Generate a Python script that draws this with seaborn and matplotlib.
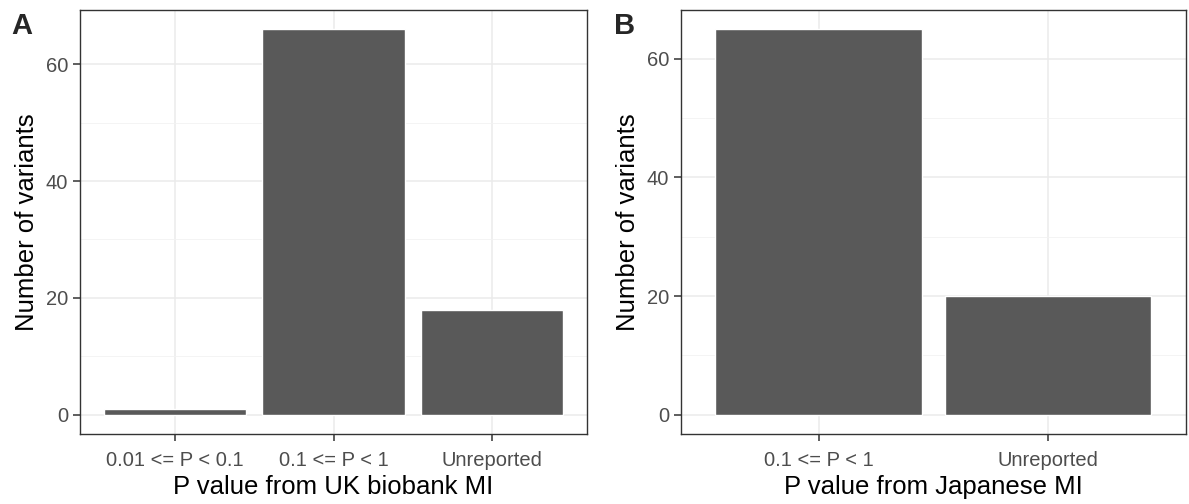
import numpy as np
import pandas as pd
import seaborn as sns
from matplotlib import pyplot as plt

uk_cats = ['0.01 <= P < 0.1', '0.1 <= P < 1', 'Unreported']
uk_counts = [1, 66, 18]
jp_cats = ['0.1 <= P < 1', 'Unreported']
jp_counts = [65, 20]

sns.set_style('white')
plt.rcParams['font.family'] = ['Liberation Sans', 'DejaVu Sans']

fig = plt.figure(figsize=(11.89, 5.04), dpi=100)
ax_a = fig.add_axes([0.0673, 0.139, 0.4264, 0.8413])
ax_b = fig.add_axes([0.5727, 0.139, 0.4247, 0.8413])


def panel(ax, cats, counts, xlabel, letter, lx):
    df = pd.DataFrame({'cat': cats, 'n': counts})
    sns.barplot(ax=ax, data=df, x='cat', y='n', color='#595959',
                saturation=1, width=0.9, zorder=3)
    top = max(counts)
    ax.set_ylim(-0.05 * top, top * 1.05)
    ax.set_xlim(-0.6, len(cats) - 1 + 0.6)
    ax.set_yticks([0, 20, 40, 60])
    ax.set_yticks([10, 30, 50], minor=True)
    ax.grid(True, which='major', color='#EBEBEB', lw=1.1, zorder=0)
    ax.grid(True, which='minor', axis='y', color='#F2F2F2', lw=0.6, zorder=0)
    ax.set_axisbelow(True)
    for s in ax.spines.values():
        s.set_color('#333333')
        s.set_linewidth(1.0)
    ax.tick_params(axis='both', which='major', length=5, width=1.1,
                   color='#333333', labelcolor='#4D4D4D', labelsize=14.5,
                   pad=3.5, bottom=True, left=True)
    ax.tick_params(axis='x', which='major', pad=7)
    ax.tick_params(axis='y', which='minor', length=0)
    ax.set_xlabel(xlabel, fontsize=18.5, color='black', labelpad=4)
    ax.set_ylabel('Number of variants', fontsize=18.5, color='black', labelpad=5)
    fig.text(lx, 1 - 12 / 504, letter, fontsize=21, fontweight='bold',
             ha='left', va='top')


panel(ax_a, uk_cats, uk_counts, 'P value from UK biobank MI', 'A', 11 / 1189)
panel(ax_b, jp_cats, jp_counts, 'P value from Japanese MI', 'B', 614 / 1189)

fig.savefig('out.png', dpi=100)
